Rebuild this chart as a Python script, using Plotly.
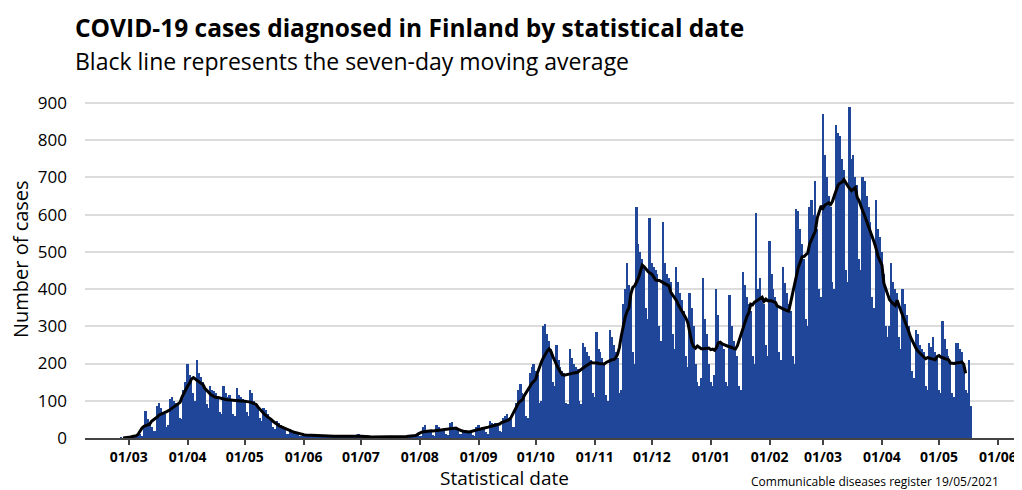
import pandas as pd
import plotly.graph_objects as go

START_DATE = "2020-02-24"  # Monday; values listed week by week (Mon..Sun)

daily_cases = [
    0, 0, 1, 0, 1, 0, 0,
    1, 3, 5, 8, 12, 10, 6,
    30, 72, 50, 40, 30, 18, 20,
    85, 95, 80, 70, 65, 30, 35,
    105, 110, 100, 95, 90, 55, 50,
    130, 150, 200, 170, 160, 120, 100,
    210, 175, 165, 150, 135, 90, 80,
    140, 130, 125, 120, 110, 70, 65,
    140, 120, 110, 115, 105, 65, 60,
    135, 115, 110, 105, 100, 70, 60,
    130, 120, 100, 95, 85, 55, 45,
    80, 75, 65, 55, 50, 30, 25,
    45, 40, 35, 30, 25, 12, 10,
    25, 20, 18, 15, 12, 6, 5,
    12, 10, 9, 8, 7, 4, 3,
    8, 6, 6, 5, 4, 2, 2,
    7, 6, 5, 6, 4, 2, 3,
    6, 5, 4, 5, 3, 2, 1,
    8, 12, 4, 6, 3, 1, 2,
    5, 4, 3, 4, 2, 1, 1,
    4, 3, 3, 4, 2, 1, 2,
    5, 4, 5, 3, 3, 2, 1,
    7, 8, 9, 10, 8, 4, 3,
    30, 35, 20, 18, 15, 8, 6,
    35, 30, 25, 22, 18, 10, 8,
    40, 42, 30, 28, 25, 12, 10,
    20, 22, 18, 20, 18, 8, 6,
    30, 35, 28, 30, 25, 15, 12,
    45, 40, 38, 40, 35, 20, 15,
    55, 60, 65, 55, 50, 30, 30,
    95, 130, 145, 120, 115, 60, 55,
    175, 190, 200, 180, 170, 95, 100,
    300, 305, 280, 260, 240, 150, 140,
    250, 210, 190, 180, 175, 95, 90,
    240, 215, 200, 190, 185, 100, 90,
    255, 245, 230, 220, 210, 120, 110,
    285, 240, 230, 215, 200, 115, 100,
    290, 270, 250, 230, 215, 120, 130,
    360, 400, 470, 410, 380, 230, 200,
    620, 520, 500, 480, 460, 350, 320,
    590, 470, 460, 450, 440, 300, 260,
    580, 470, 440, 430, 420, 280, 240,
    460, 420, 390, 370, 340, 220, 190,
    390, 350, 300, 200, 150, 140, 160,
    430, 320, 280, 200, 150, 140, 170,
    400, 330, 260, 250, 240, 150, 140,
    385, 300, 260, 240, 220, 140, 130,
    445, 410, 380, 360, 340, 220, 200,
    605, 400, 430, 380, 360, 250, 220,
    530, 440, 400, 380, 360, 230, 210,
    460, 415, 390, 360, 340, 220, 200,
    615, 610, 560, 520, 480, 320, 300,
    620, 640, 600, 690, 560, 400, 380,
    870, 760, 700, 650, 620, 420, 400,
    840, 820, 810, 750, 720, 450, 420,
    890, 750, 760, 700, 680, 480, 450,
    700, 690, 650, 620, 580, 380, 350,
    640, 560, 540, 500, 440, 300, 270,
    300, 470, 420, 400, 390, 270, 240,
    400, 360, 330, 300, 280, 180, 160,
    290, 280, 250, 240, 230, 140, 130,
    255, 245, 270, 230, 220, 130, 120,
    315, 265, 240, 220, 200, 120, 110,
    255, 255, 240, 230, 200, 130, 120,
    210, 85,
]

tick_dates = [
    "2020-03-01", "2020-04-01", "2020-05-01", "2020-06-01", "2020-07-01",
    "2020-08-01", "2020-09-01", "2020-10-01", "2020-11-01", "2020-12-01",
    "2021-01-01", "2021-02-01", "2021-03-01", "2021-04-01", "2021-05-01",
    "2021-06-01",
]
tick_labels = [
    "01/03", "01/04", "01/05", "01/06", "01/07", "01/08", "01/09", "01/10",
    "01/11", "01/12", "01/01", "01/02", "01/03", "01/04", "01/05", "01/06",
]
y_ticks = [0, 100, 200, 300, 400, 500, 600, 700, 800, 900]

dates = pd.date_range(START_DATE, periods=len(daily_cases), freq="D")
cases = pd.Series(daily_cases, index=dates)
moving_avg = cases.rolling(7, center=True, min_periods=7).mean().dropna()

# The page body has an 8px default margin; layout is expressed in window pixels.
BODY = 8
PL, PR, PT, PB = 85, 1017, 101, 438  # plot-area edges in window pixels


def px(x):
    return (x - PL) / (PR - PL)


def py(y):
    return (PB - y) / (PB - PT)


fig = go.Figure()
fig.add_trace(go.Bar(
    x=dates, y=cases.values,
    marker=dict(color="#1F4699", line=dict(width=0)),
    hoverinfo="x+y",
))
fig.add_trace(go.Scatter(
    x=moving_avg.index, y=moving_avg.values, mode="lines",
    line=dict(color="black", width=3), hoverinfo="x+y",
))

W, H = 1022 - BODY, 490 - BODY
fig.update_layout(
    width=W, height=H,
    margin=dict(l=PL - BODY, r=W - (PR - BODY), t=PT - BODY, b=H - (PB - BODY)),
    paper_bgcolor="white", plot_bgcolor="white",
    showlegend=False, bargap=0,
    font=dict(family="Open Sans, sans-serif", color="black"),
)
fig.update_xaxes(
    range=["2020-02-07", "2021-06-11"],
    tickmode="array", tickvals=tick_dates, ticktext=tick_labels,
    tickfont=dict(family="Open Sans", size=14, color="black", weight="bold"),
    ticks="outside", ticklen=5, tickwidth=1.5, tickcolor="#444",
    showline=True, linecolor="#444", linewidth=2,
    showgrid=False, zeroline=False,
)
fig.update_yaxes(
    range=[0, 905], tickvals=y_ticks,
    tickfont=dict(family="Open Sans", size=17, color="black"),
    showgrid=True, gridcolor="#dcdcdc", gridwidth=2,
    zeroline=False, showline=False, ticks="", ticklabelstandoff=17,
)

fig.add_annotation(
    text="<b>COVID-19 cases diagnosed in Finland by statistical date</b>",
    xref="paper", yref="paper", x=px(73), y=py(8.5),
    xanchor="left", yanchor="top", showarrow=False,
    font=dict(family="Open Sans", size=24.5, color="black"),
)
fig.add_annotation(
    text="Black line represents the seven-day moving average",
    xref="paper", yref="paper", x=px(73), y=py(43),
    xanchor="left", yanchor="top", showarrow=False,
    font=dict(family="Open Sans", size=23, color="black"),
)
fig.add_annotation(
    text="Number of cases", textangle=-90,
    xref="paper", yref="paper", x=px(20), y=py(259),
    xanchor="center", yanchor="middle", showarrow=False,
    font=dict(family="Open Sans", size=20, color="black"),
)
fig.add_annotation(
    text="Statistical date",
    xref="paper", yref="paper", x=px(504), y=py(463),
    xanchor="center", yanchor="top", showarrow=False,
    font=dict(family="Open Sans", size=19, color="black"),
)
fig.add_annotation(
    text="Communicable diseases register 19/05/2021",
    xref="paper", yref="paper", x=px(749), y=py(471),
    xanchor="left", yanchor="top", showarrow=False,
    font=dict(family="Open Sans", size=12, color="black"),
)

fig.write_html("out.html")
